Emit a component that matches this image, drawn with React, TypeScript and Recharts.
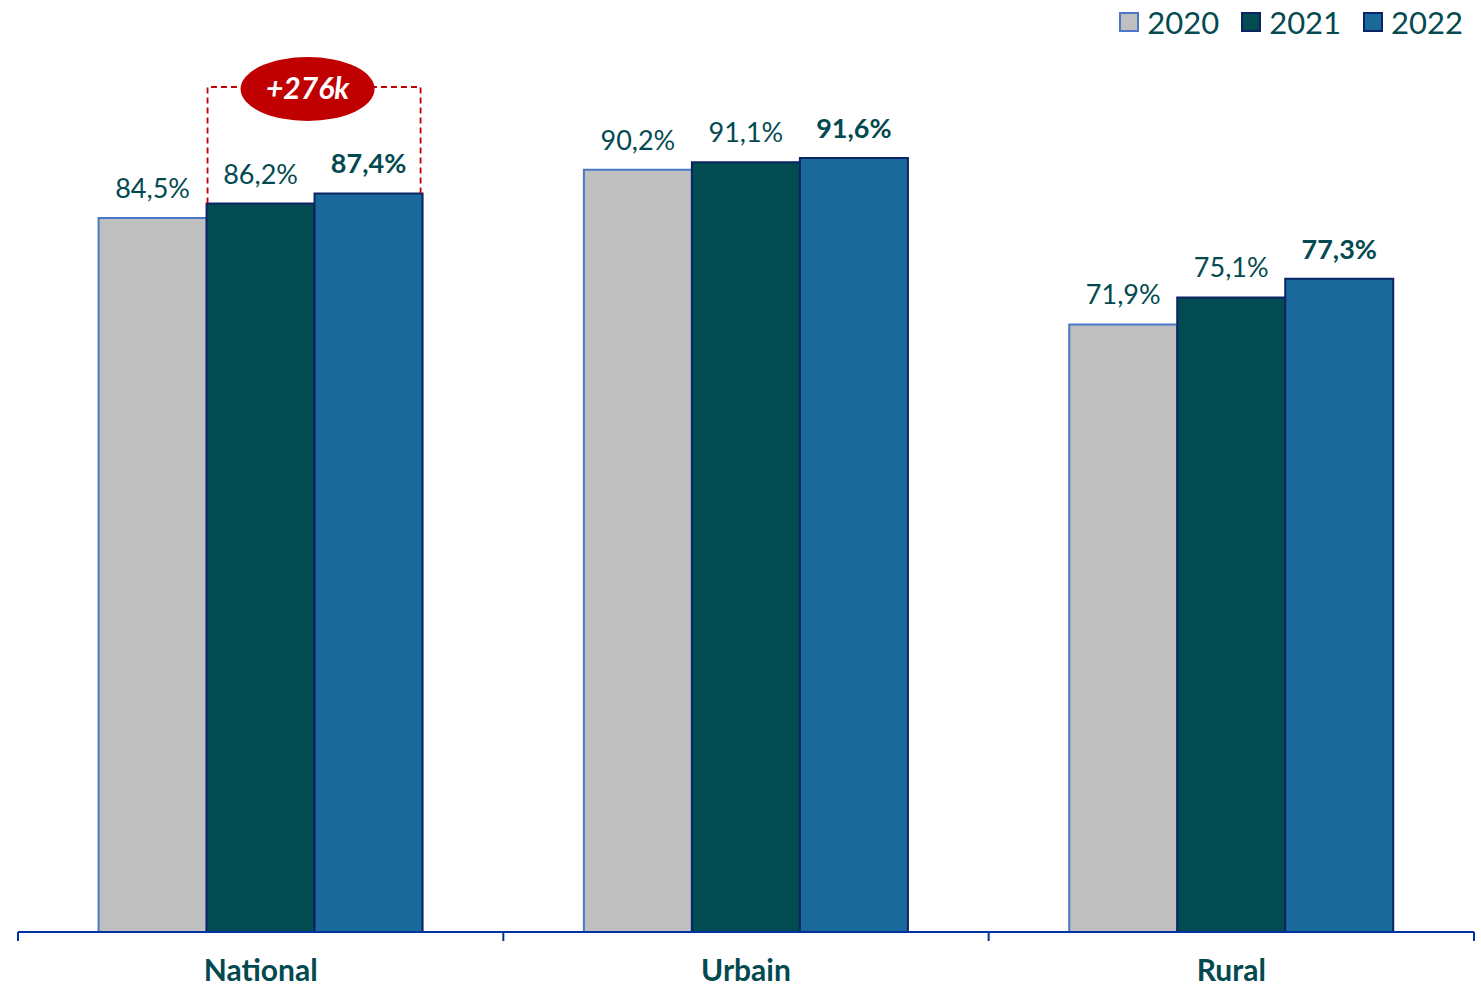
import React from 'react';
import { BarChart, Bar, XAxis, YAxis, LabelList } from 'recharts';

const categories = ['National', 'Urbain', 'Rural'];
const years = ['2020', '2021', '2022'];
const values2020 = [84.5, 90.2, 71.9];
const values2021 = [86.2, 91.1, 75.1];
const values2022 = [87.4, 91.6, 77.3];
const deltaLabel = '+276k';

const data = categories.map((name, i) => ({
  name,
  y2020: values2020[i],
  y2021: values2021[i],
  y2022: values2022[i],
}));

const W = 1481;
const H = 988;
const MARGIN = { top: 87, right: 7, left: 18, bottom: 0 };
const BAND = (W - MARGIN.left - MARGIN.right) / categories.length;

const TEXT = '#034a50';
const AXIS = '#0033a0';
const FONT = 'Lato, "Open Sans", sans-serif';

const series = [
  { key: 'y2020', year: years[0], fill: '#bfbfbf', stroke: '#4a78c8' },
  { key: 'y2021', year: years[1], fill: '#024b51', stroke: '#0a2466' },
  { key: 'y2022', year: years[2], fill: '#1a699b', stroke: '#0a2466' },
];

const fmt = (v: number) => v.toFixed(1).replace('.', ',') + '%';

const makeLabel = (bold: boolean) => (props: any) => {
  const { x, y, width, value } = props;
  return (
    <text
      x={x + width / 2}
      y={y - 20}
      textAnchor="middle"
      fontSize={27}
      fontWeight={bold ? 700 : 400}
      fill={TEXT}
      fontFamily={FONT}
    >
      {fmt(value)}
    </text>
  );
};

// dashed bracket over National 2021-2022 with the red bubble
const Bracket = (props: any) => {
  const { x, y, width, height, value, index } = props;
  if (index !== 0) return null;
  const base = y + height;
  const k = height / value;
  const top = base - 100 * k;
  const right = x + 2 * width;
  const rightEnd = base - values2022[0] * k;
  const cx = (x + right) / 2 - 7;
  return (
    <g>
      <path
        d={`M${x + 1},${y} L${x + 1},${top} L${right - 2},${top} L${right - 2},${rightEnd}`}
        fill="none"
        stroke="#c00000"
        strokeWidth={1.8}
        strokeDasharray="6 4"
      />
      <ellipse cx={cx} cy={top + 2} rx={67} ry={32} fill="#c00000" />
      <text
        x={cx}
        y={top + 12}
        textAnchor="middle"
        fontSize={30}
        fontWeight={700}
        fontStyle="italic"
        fill="#ffffff"
        fontFamily={FONT}
      >
        {deltaLabel}
      </text>
    </g>
  );
};

const CategoryTick = (props: any) => {
  const { x, y, payload, index } = props;
  const last = index === categories.length - 1;
  return (
    <g>
      <line x1={x - BAND / 2} y1={y - 8} x2={x - BAND / 2} y2={y + 1} stroke={AXIS} strokeWidth={2} />
      {last && (
        <line x1={x + BAND / 2} y1={y - 8} x2={x + BAND / 2} y2={y + 1} stroke={AXIS} strokeWidth={2} />
      )}
      <text x={x} y={y + 41} textAnchor="middle" fontSize={30} fontWeight={700} fill={TEXT} fontFamily={FONT}>
        {payload.value}
      </text>
    </g>
  );
};

const LegendBox = () => (
  <div
    style={{
      position: 'absolute',
      top: 6,
      right: 18,
      display: 'flex',
      alignItems: 'center',
      gap: 22,
      fontFamily: FONT,
    }}
  >
    {series.map(s => (
      <div key={s.key} style={{ display: 'flex', alignItems: 'center', gap: 8 }}>
        <div style={{ width: 16, height: 16, background: s.fill, border: `2px solid ${s.stroke}` }} />
        <span style={{ fontSize: 31, color: TEXT, lineHeight: '32px' }}>{s.year}</span>
      </div>
    ))}
  </div>
);

export default function App() {
  return (
    <div style={{ position: 'relative', width: W, height: H, background: '#fff' }}>
      <style>{`body{margin:0}`}</style>
      <BarChart width={W} height={H} data={data} margin={MARGIN} barCategoryGap="16.6%" barGap={0}>
        <XAxis
          dataKey="name"
          height={56}
          axisLine={{ stroke: AXIS, strokeWidth: 2 }}
          tickLine={false}
          tick={<CategoryTick />}
          interval={0}
        />
        <YAxis hide domain={[0, 100]} />
        {series.map((s, i) => (
          <Bar
            key={s.key}
            dataKey={s.key}
            fill={s.fill}
            stroke={s.stroke}
            strokeWidth={2}
            isAnimationActive={false}
          >
            <LabelList dataKey={s.key} content={makeLabel(i === 2)} />
            {i === 1 && <LabelList dataKey={s.key} content={Bracket} />}
          </Bar>
        ))}
      </BarChart>
      <LegendBox />
    </div>
  );
}
